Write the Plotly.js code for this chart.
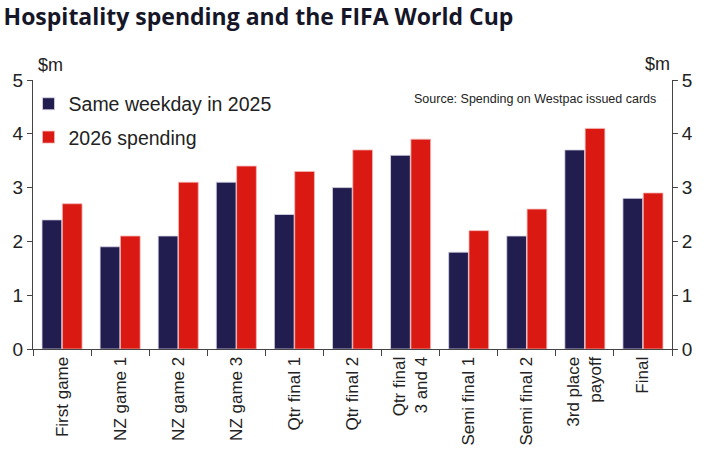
<!DOCTYPE html>
<html>
<head>
<meta charset="utf-8">
<script src="https://cdn.plot.ly/plotly-3.0.1.min.js"></script>
<style>
  body { margin: 0; background: #fff; }
  #chart { width: 707px; height: 457px; }
</style>
</head>
<body>
<div id="chart"></div>
<script>
const games = [
  "First game", "NZ game 1", "NZ game 2", "NZ game 3", "Qtr final 1",
  "Qtr final 2", "Qtr final<br>3 and 4", "Semi final 1", "Semi final 2",
  "3rd place<br>payoff", "Final"
];
const spend2025 = [2.4, 1.9, 2.1, 3.1, 2.5, 3.0, 3.6, 1.8, 2.1, 3.7, 2.8];
const spend2026 = [2.7, 2.1, 3.1, 3.4, 3.3, 3.7, 3.9, 2.2, 2.6, 4.1, 2.9];
const yTicks = [0, 1, 2, 3, 4, 5];

const navy = "#211d4f";
const red = "#db1913";
const axisColor = "#444";
const textFont = "Liberation Sans, Arial, sans-serif";

const traces = [
  {
    type: "bar",
    name: "Same weekday in 2025",
    legendgroup: "a",
    x: games,
    y: spend2025,
    marker: { color: navy, line: { color: "#d8d6e4", width: 0.8 } },
    hoverinfo: "x+y",
  },
  {
    type: "bar",
    name: "2026 spending",
    legendgroup: "b",
    x: games,
    y: spend2026,
    marker: { color: red, line: { color: "#f2b8b6", width: 0.8 } },
    hoverinfo: "x+y",
  },
  {
    // invisible trace to carry the right-hand axis
    type: "bar",
    x: games,
    y: spend2026.map(() => 0),
    yaxis: "y2",
    showlegend: false,
    hoverinfo: "skip",
    marker: { color: "rgba(0,0,0,0)" },
  },
];

const yAxisBase = {
  range: [0, 5],
  tickvals: yTicks,
  ticks: "outside",
  ticklen: 5,
  tickcolor: axisColor,
  showline: true,
  linecolor: axisColor,
  linewidth: 1,
  showgrid: false,
  zeroline: false,
  tickfont: { family: textFont, size: 19, color: "#222" },
  fixedrange: true,
};

const layout = {
  width: 707,
  height: 457,
  margin: { l: 33, r: 35, t: 80, b: 108 },
  paper_bgcolor: "#fff",
  plot_bgcolor: "#fff",
  barmode: "group",
  bargap: 0.3,
  bargroupgap: 0.03,
  title: {
    text: "<b>Hospitality spending and the FIFA World Cup</b>",
    font: { family: "Open Sans, Noto Sans, sans-serif", size: 23, color: "#161629" },
    x: 0.005,
    xanchor: "left",
    y: 0.98,
    yanchor: "top",
  },
  xaxis: {
    tickangle: -90,
    tickfont: { family: textFont, size: 17, color: "#222" },
    showline: true,
    linecolor: axisColor,
    linewidth: 1,
    ticks: "outside",
    tickson: "boundaries",
    ticklen: 6,
    tickcolor: axisColor,
    showgrid: false,
    fixedrange: true,
  },
  yaxis: Object.assign({}, yAxisBase, { side: "left" }),
  yaxis2: Object.assign({}, yAxisBase, { side: "right", overlaying: "y" }),
  showlegend: true,
  legend: {
    x: -0.007,
    y: 0.983,
    xanchor: "left",
    yanchor: "top",
    traceorder: "grouped",
    tracegroupgap: 5,
    bgcolor: "rgba(0,0,0,0)",
    font: { family: textFont, size: 19.5, color: "#222" },
    itemwidth: 30,
  },
  annotations: [
    {
      text: "$m",
      xref: "paper", yref: "paper",
      x: 0.005, y: 1.056,
      xanchor: "left", yanchor: "middle",
      showarrow: false,
      font: { family: textFont, size: 18, color: "#222" },
    },
    {
      text: "$m",
      xref: "paper", yref: "paper",
      x: 1.0, y: 1.06,
      xanchor: "right", yanchor: "middle",
      showarrow: false,
      font: { family: textFont, size: 18, color: "#222" },
    },
    {
      text: "Source: Spending on Westpac issued cards",
      xref: "paper", yref: "paper",
      x: 0.978, y: 0.93,
      xanchor: "right", yanchor: "middle",
      showarrow: false,
      font: { family: textFont, size: 12.5, color: "#222" },
    },
  ],
};

Plotly.newPlot("chart", traces, layout, { displayModeBar: false, staticPlot: true });
</script>
</body>
</html>
